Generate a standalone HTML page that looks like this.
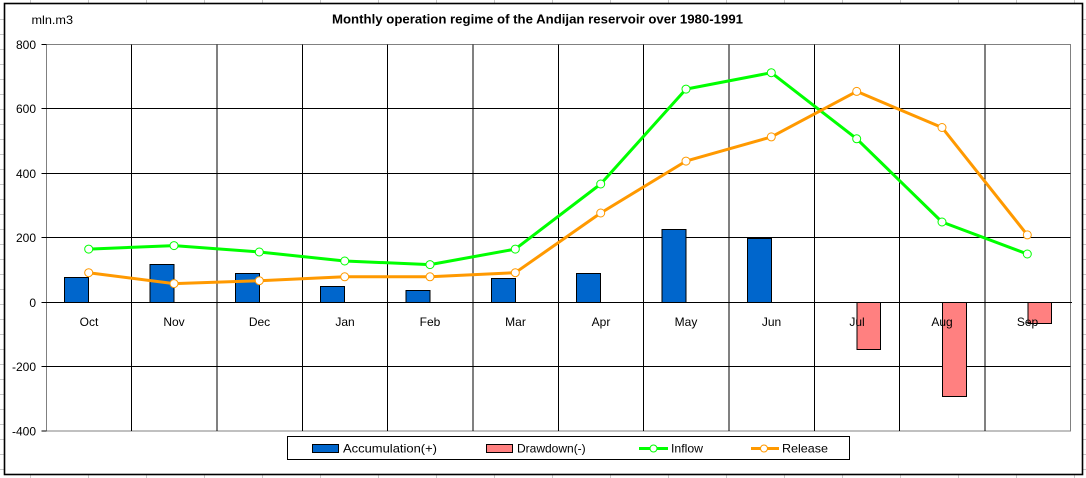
<!DOCTYPE html>
<html>
<head>
<meta charset="utf-8">
<style>
  html,body{margin:0;padding:0;background:#fff;}
  svg{display:block;}
  text{font-family:"Liberation Sans", Arial, sans-serif;font-size:12px;fill:#000;}
</style>
</head>
<body>
<svg width="1086" height="478" viewBox="0 0 1086 478" xmlns="http://www.w3.org/2000/svg">
  <rect x="0" y="0" width="1086" height="478" fill="#fff"/>
  <!-- sheet gridlines (outside chart) -->
  <g stroke="#c8c8c8" stroke-width="1">
    <line x1="30.5" y1="0" x2="30.5" y2="478"/>
    <line x1="88.5" y1="0" x2="88.5" y2="478"/>
    <line x1="146.5" y1="0" x2="146.5" y2="478"/>
    <line x1="204.5" y1="0" x2="204.5" y2="478"/>
    <line x1="262.5" y1="0" x2="262.5" y2="478"/>
    <line x1="320.5" y1="0" x2="320.5" y2="478"/>
    <line x1="378.5" y1="0" x2="378.5" y2="478"/>
    <line x1="436.5" y1="0" x2="436.5" y2="478"/>
    <line x1="494.5" y1="0" x2="494.5" y2="478"/>
    <line x1="552.5" y1="0" x2="552.5" y2="478"/>
    <line x1="610.5" y1="0" x2="610.5" y2="478"/>
    <line x1="668.5" y1="0" x2="668.5" y2="478"/>
    <line x1="726.5" y1="0" x2="726.5" y2="478"/>
    <line x1="784.5" y1="0" x2="784.5" y2="478"/>
    <line x1="842.5" y1="0" x2="842.5" y2="478"/>
    <line x1="900.5" y1="0" x2="900.5" y2="478"/>
    <line x1="958.5" y1="0" x2="958.5" y2="478"/>
    <line x1="1016.5" y1="0" x2="1016.5" y2="478"/>
    <line x1="1074.5" y1="0" x2="1074.5" y2="478"/>
  </g>
  <g stroke="#c8c8c8" stroke-width="1">
    <line x1="0" y1="19.5" x2="1086" y2="19.5"/>
    <line x1="0" y1="34.5" x2="1086" y2="34.5"/>
    <line x1="0" y1="49.5" x2="1086" y2="49.5"/>
    <line x1="0" y1="64.5" x2="1086" y2="64.5"/>
    <line x1="0" y1="79.5" x2="1086" y2="79.5"/>
    <line x1="0" y1="94.5" x2="1086" y2="94.5"/>
    <line x1="0" y1="109.5" x2="1086" y2="109.5"/>
    <line x1="0" y1="124.5" x2="1086" y2="124.5"/>
    <line x1="0" y1="139.5" x2="1086" y2="139.5"/>
    <line x1="0" y1="154.5" x2="1086" y2="154.5"/>
    <line x1="0" y1="169.5" x2="1086" y2="169.5"/>
    <line x1="0" y1="184.5" x2="1086" y2="184.5"/>
    <line x1="0" y1="199.5" x2="1086" y2="199.5"/>
    <line x1="0" y1="214.5" x2="1086" y2="214.5"/>
    <line x1="0" y1="229.5" x2="1086" y2="229.5"/>
    <line x1="0" y1="244.5" x2="1086" y2="244.5"/>
    <line x1="0" y1="259.5" x2="1086" y2="259.5"/>
    <line x1="0" y1="274.5" x2="1086" y2="274.5"/>
    <line x1="0" y1="289.5" x2="1086" y2="289.5"/>
    <line x1="0" y1="304.5" x2="1086" y2="304.5"/>
    <line x1="0" y1="319.5" x2="1086" y2="319.5"/>
    <line x1="0" y1="334.5" x2="1086" y2="334.5"/>
    <line x1="0" y1="349.5" x2="1086" y2="349.5"/>
    <line x1="0" y1="364.5" x2="1086" y2="364.5"/>
    <line x1="0" y1="379.5" x2="1086" y2="379.5"/>
    <line x1="0" y1="394.5" x2="1086" y2="394.5"/>
    <line x1="0" y1="409.5" x2="1086" y2="409.5"/>
    <line x1="0" y1="424.5" x2="1086" y2="424.5"/>
    <line x1="0" y1="439.5" x2="1086" y2="439.5"/>
    <line x1="0" y1="454.5" x2="1086" y2="454.5"/>
    <line x1="0" y1="469.5" x2="1086" y2="469.5"/>
  </g>

  <!-- chart area -->
  <rect x="4.5" y="3.5" width="1078" height="471" fill="#fff" stroke="#000" stroke-width="1.6"/>

  <!-- titles -->
  <text x="31.5" y="24" textLength="41.5" lengthAdjust="spacingAndGlyphs">mln.m3</text>
  <text x="332" y="23.5" style="font-weight:bold;font-size:12.5px" textLength="411" lengthAdjust="spacingAndGlyphs">Monthly operation regime of the Andijan reservoir over 1980-1991</text>

  <!-- plot area -->
  <rect x="46.5" y="44.5" width="1024" height="386.5" fill="#fff" stroke="#808080" stroke-width="1"/>

  <!-- horizontal gridlines -->
  <g stroke="#000" stroke-width="1">
    <line x1="46" y1="108.5" x2="1070.5" y2="108.5"/>
    <line x1="46" y1="173.5" x2="1070.5" y2="173.5"/>
    <line x1="46" y1="237.5" x2="1070.5" y2="237.5"/>
    <line x1="46" y1="302.5" x2="1072" y2="302.5"/>
    <line x1="46" y1="366.5" x2="1070.5" y2="366.5"/>
  </g>
  <!-- vertical gridlines -->
  <g stroke="#000" stroke-width="1">
    <line x1="131.5" y1="44.5" x2="131.5" y2="431"/>
    <line x1="217" y1="44.5" x2="217" y2="431"/>
    <line x1="302.5" y1="44.5" x2="302.5" y2="431"/>
    <line x1="387.5" y1="44.5" x2="387.5" y2="431"/>
    <line x1="473" y1="44.5" x2="473" y2="431"/>
    <line x1="558.5" y1="44.5" x2="558.5" y2="431"/>
    <line x1="643.5" y1="44.5" x2="643.5" y2="431"/>
    <line x1="729" y1="44.5" x2="729" y2="431"/>
    <line x1="814.5" y1="44.5" x2="814.5" y2="431"/>
    <line x1="899.5" y1="44.5" x2="899.5" y2="431"/>
    <line x1="985" y1="44.5" x2="985" y2="431"/>
  </g>
  <!-- y ticks -->
  <g stroke="#000" stroke-width="1">
    <line x1="41.5" y1="44.5" x2="46.5" y2="44.5"/>
    <line x1="41.5" y1="108.5" x2="46.5" y2="108.5"/>
    <line x1="41.5" y1="173.5" x2="46.5" y2="173.5"/>
    <line x1="41.5" y1="237.5" x2="46.5" y2="237.5"/>
    <line x1="41.5" y1="302.5" x2="46.5" y2="302.5"/>
    <line x1="41.5" y1="366.5" x2="46.5" y2="366.5"/>
    <line x1="41.5" y1="431" x2="46.5" y2="431"/>
  </g>
  <!-- y labels -->
  <g text-anchor="end">
    <text x="36" y="49">800</text>
    <text x="36" y="113">600</text>
    <text x="36" y="178">400</text>
    <text x="36" y="242">200</text>
    <text x="36" y="307">0</text>
    <text x="36" y="371">-200</text>
    <text x="36" y="435.5">-400</text>
  </g>

  <!-- accumulation bars -->
  <g fill="#0066CC" stroke="#000" stroke-width="1">
    <rect x="64.5" y="277.5" width="24" height="25"/>
    <rect x="150" y="264.5" width="24" height="38"/>
    <rect x="235.5" y="273.5" width="24" height="29"/>
    <rect x="320.5" y="286.5" width="24" height="16"/>
    <rect x="406" y="290.5" width="24" height="12"/>
    <rect x="491.5" y="278.5" width="24" height="24"/>
    <rect x="576.5" y="273.5" width="24" height="29"/>
    <rect x="662" y="229.5" width="24" height="73"/>
    <rect x="747.5" y="238.5" width="24" height="64"/>
  </g>
  <!-- drawdown bars -->
  <g fill="#FF8080" stroke="#000" stroke-width="1">
    <rect x="857" y="302.5" width="23.5" height="47"/>
    <rect x="942.5" y="302.5" width="24" height="94"/>
    <rect x="1028" y="302.5" width="23.5" height="21"/>
  </g>

  <!-- category labels -->
  <g text-anchor="middle">
    <text x="89" y="326">Oct</text>
    <text x="174" y="326">Nov</text>
    <text x="259.5" y="326">Dec</text>
    <text x="345" y="326">Jan</text>
    <text x="430" y="326">Feb</text>
    <text x="515.5" y="326">Mar</text>
    <text x="601" y="326">Apr</text>
    <text x="686" y="326">May</text>
    <text x="771.5" y="326">Jun</text>
    <text x="857" y="326">Jul</text>
    <text x="942" y="326">Aug</text>
    <text x="1027.5" y="326">Sep</text>
  </g>

  <!-- Inflow line -->
  <polyline fill="none" stroke="#00FF00" stroke-width="3" stroke-linejoin="round"
    points="88.7,249.1 174,245.6 259.3,252 344.7,261 430,264.6 515.3,249.1 600.7,184 686,89.1 771.3,72.7 856.7,138.8 942,222 1027.3,254"/>
  <!-- Release line -->
  <polyline fill="none" stroke="#FF9900" stroke-width="3" stroke-linejoin="round"
    points="88.7,272.7 174,283.6 259.3,280.7 344.7,276.8 430,276.8 515.3,272.7 600.7,213 686,161.1 771.3,136.9 856.7,91.4 942,127.5 1027.3,234.9"/>

  <!-- Inflow markers -->
  <g fill="#fff" stroke="#00FF00" stroke-width="1">
    <circle cx="88.7" cy="249.1" r="4"/>
    <circle cx="174" cy="245.6" r="4"/>
    <circle cx="259.3" cy="252" r="4"/>
    <circle cx="344.7" cy="261" r="4"/>
    <circle cx="430" cy="264.6" r="4"/>
    <circle cx="515.3" cy="249.1" r="4"/>
    <circle cx="600.7" cy="184" r="4"/>
    <circle cx="686" cy="89.1" r="4"/>
    <circle cx="771.3" cy="72.7" r="4"/>
    <circle cx="856.7" cy="138.8" r="4"/>
    <circle cx="942" cy="222" r="4"/>
    <circle cx="1027.3" cy="254" r="4"/>
  </g>
  <!-- Release markers -->
  <g fill="#fff" stroke="#FF9900" stroke-width="1">
    <circle cx="88.7" cy="272.7" r="4"/>
    <circle cx="174" cy="283.6" r="4"/>
    <circle cx="259.3" cy="280.7" r="4"/>
    <circle cx="344.7" cy="276.8" r="4"/>
    <circle cx="430" cy="276.8" r="4"/>
    <circle cx="515.3" cy="272.7" r="4"/>
    <circle cx="600.7" cy="213" r="4"/>
    <circle cx="686" cy="161.1" r="4"/>
    <circle cx="771.3" cy="136.9" r="4"/>
    <circle cx="856.7" cy="91.4" r="4"/>
    <circle cx="942" cy="127.5" r="4"/>
    <circle cx="1027.3" cy="234.9" r="4"/>
  </g>

  <!-- legend -->
  <rect x="287.5" y="436.5" width="562" height="23" fill="#fff" stroke="#000" stroke-width="1"/>
  <rect x="312.5" y="444.5" width="26" height="8" fill="#0066CC" stroke="#000" stroke-width="1"/>
  <text x="343" y="452.5" textLength="94" lengthAdjust="spacingAndGlyphs">Accumulation(+)</text>
  <rect x="486.5" y="444.5" width="26" height="8" fill="#FF8080" stroke="#000" stroke-width="1"/>
  <text x="517" y="452.5">Drawdown(-)</text>
  <line x1="639" y1="448.5" x2="668" y2="448.5" stroke="#00FF00" stroke-width="3"/>
  <circle cx="653.5" cy="448.5" r="3.5" fill="#fff" stroke="#00FF00" stroke-width="1"/>
  <text x="671" y="452.5" textLength="32" lengthAdjust="spacingAndGlyphs">Inflow</text>
  <line x1="751" y1="448.5" x2="779" y2="448.5" stroke="#FF9900" stroke-width="3"/>
  <circle cx="764" cy="448.5" r="3.5" fill="#fff" stroke="#FF9900" stroke-width="1"/>
  <text x="782" y="452.5" textLength="46" lengthAdjust="spacingAndGlyphs">Release</text>
</svg>
</body>
</html>
